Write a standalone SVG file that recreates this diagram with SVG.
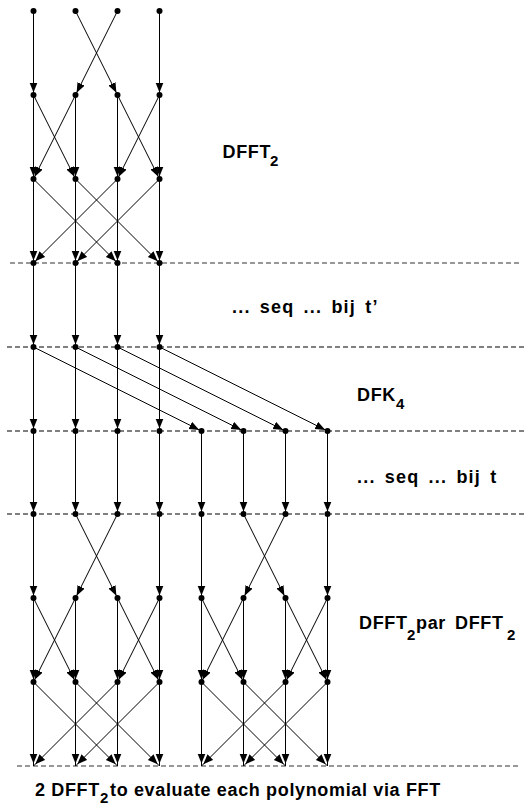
<svg xmlns="http://www.w3.org/2000/svg" width="525" height="806" viewBox="0 0 525 806">
<defs>
<marker id="ah" markerUnits="userSpaceOnUse" markerWidth="13" markerHeight="9" refX="12.5" refY="4" orient="auto">
<path d="M0,0 L10,4 L0,8 Z" fill="#000"/>
</marker>
<style>
.e{stroke:#000;stroke-width:1;fill:none;marker-end:url(#ah)}
.n{fill:#000}
.sep{stroke:#000;stroke-width:1;stroke-dasharray:5,3;fill:none}
.sepg{stroke:#777;stroke-width:1.5;stroke-dasharray:5,3;fill:none}
.t{font-family:"Liberation Sans",Arial,sans-serif;font-weight:bold;font-size:18px;letter-spacing:0.65px;fill:#000}
.q{font-family:"Liberation Sans",Arial,sans-serif;font-weight:bold;font-size:18px;letter-spacing:1.2px;word-spacing:3px;fill:#000}
.s{font-family:"Liberation Sans",Arial,sans-serif;font-weight:bold;font-size:15px;fill:#000}
</style>
</defs>
<rect width="525" height="806" fill="#fff"/>
<g id="separators">
<path class="sepg" d="M10,263 H520"/>
<path class="sep" d="M7,347 H525"/>
<path class="sep" d="M7,431 H525"/>
<path class="sep" d="M7,514 H525"/>
<path class="sepg" d="M17,766 H520"/>
</g>
<g id="connectors">
<path class="e" d="M33.5,11 L33.5,95"/>
<path class="e" d="M75.5,11 L117.5,95"/>
<path class="e" d="M117.5,11 L75.5,95"/>
<path class="e" d="M159.5,11 L159.5,95"/>

<path class="e" d="M33.5,95 L33.5,179"/>
<path class="e" d="M33.5,95 L75.5,179"/>
<path class="e" d="M75.5,95 L75.5,179"/>
<path class="e" d="M75.5,95 L33.5,179"/>
<path class="e" d="M117.5,95 L117.5,179"/>
<path class="e" d="M117.5,95 L159.5,179"/>
<path class="e" d="M159.5,95 L159.5,179"/>
<path class="e" d="M159.5,95 L117.5,179"/>

<path class="e" d="M33.5,179 L33.5,263"/>
<path class="e" d="M33.5,179 L117.5,263"/>
<path class="e" d="M75.5,179 L75.5,263"/>
<path class="e" d="M75.5,179 L159.5,263"/>
<path class="e" d="M117.5,179 L117.5,263"/>
<path class="e" d="M117.5,179 L33.5,263"/>
<path class="e" d="M159.5,179 L159.5,263"/>
<path class="e" d="M159.5,179 L75.5,263"/>

<path class="e" d="M33.5,263 L33.5,347"/>
<path class="e" d="M75.5,263 L75.5,347"/>
<path class="e" d="M117.5,263 L117.5,347"/>
<path class="e" d="M159.5,263 L159.5,347"/>

<path class="e" d="M33.5,347 L33.5,431"/>
<path class="e" d="M75.5,347 L75.5,431"/>
<path class="e" d="M117.5,347 L117.5,431"/>
<path class="e" d="M159.5,347 L159.5,431"/>
<path class="e" d="M33.5,347 L201.5,431"/>
<path class="e" d="M75.5,347 L243.5,431"/>
<path class="e" d="M117.5,347 L285.5,431"/>
<path class="e" d="M159.5,347 L327.5,431"/>

<path class="e" d="M33.5,431 L33.5,514"/>
<path class="e" d="M75.5,431 L75.5,514"/>
<path class="e" d="M117.5,431 L117.5,514"/>
<path class="e" d="M159.5,431 L159.5,514"/>
<path class="e" d="M201.5,431 L201.5,514"/>
<path class="e" d="M243.5,431 L243.5,514"/>
<path class="e" d="M285.5,431 L285.5,514"/>
<path class="e" d="M327.5,431 L327.5,514"/>

<path class="e" d="M33.5,514 L33.5,598"/>
<path class="e" d="M75.5,514 L117.5,598"/>
<path class="e" d="M117.5,514 L75.5,598"/>
<path class="e" d="M159.5,514 L159.5,598"/>
<path class="e" d="M201.5,514 L201.5,598"/>
<path class="e" d="M243.5,514 L285.5,598"/>
<path class="e" d="M285.5,514 L243.5,598"/>
<path class="e" d="M327.5,514 L327.5,598"/>

<path class="e" d="M33.5,598 L33.5,682"/>
<path class="e" d="M33.5,598 L75.5,682"/>
<path class="e" d="M75.5,598 L75.5,682"/>
<path class="e" d="M75.5,598 L33.5,682"/>
<path class="e" d="M117.5,598 L117.5,682"/>
<path class="e" d="M117.5,598 L159.5,682"/>
<path class="e" d="M159.5,598 L159.5,682"/>
<path class="e" d="M159.5,598 L117.5,682"/>
<path class="e" d="M201.5,598 L201.5,682"/>
<path class="e" d="M201.5,598 L243.5,682"/>
<path class="e" d="M243.5,598 L243.5,682"/>
<path class="e" d="M243.5,598 L201.5,682"/>
<path class="e" d="M285.5,598 L285.5,682"/>
<path class="e" d="M285.5,598 L327.5,682"/>
<path class="e" d="M327.5,598 L327.5,682"/>
<path class="e" d="M327.5,598 L285.5,682"/>

<path class="e" d="M33.5,682 L33.5,766"/>
<path class="e" d="M33.5,682 L117.5,766"/>
<path class="e" d="M75.5,682 L75.5,766"/>
<path class="e" d="M75.5,682 L159.5,766"/>
<path class="e" d="M117.5,682 L117.5,766"/>
<path class="e" d="M117.5,682 L33.5,766"/>
<path class="e" d="M159.5,682 L159.5,766"/>
<path class="e" d="M159.5,682 L75.5,766"/>
<path class="e" d="M201.5,682 L201.5,766"/>
<path class="e" d="M201.5,682 L285.5,766"/>
<path class="e" d="M243.5,682 L243.5,766"/>
<path class="e" d="M243.5,682 L327.5,766"/>
<path class="e" d="M285.5,682 L285.5,766"/>
<path class="e" d="M285.5,682 L201.5,766"/>
<path class="e" d="M327.5,682 L327.5,766"/>
<path class="e" d="M327.5,682 L243.5,766"/>
</g>
<g id="r0"><circle class="n" cx="33.5" cy="11" r="3"/><circle class="n" cx="75.5" cy="11" r="3"/><circle class="n" cx="117.5" cy="11" r="3"/><circle class="n" cx="159.5" cy="11" r="3"/></g>
<g id="r1"><circle class="n" cx="33.5" cy="95" r="3"/><circle class="n" cx="75.5" cy="95" r="3"/><circle class="n" cx="117.5" cy="95" r="3"/><circle class="n" cx="159.5" cy="95" r="3"/></g>
<g id="r2"><circle class="n" cx="33.5" cy="179" r="3"/><circle class="n" cx="75.5" cy="179" r="3"/><circle class="n" cx="117.5" cy="179" r="3"/><circle class="n" cx="159.5" cy="179" r="3"/></g>
<g id="r3"><circle class="n" cx="33.5" cy="263" r="3"/><circle class="n" cx="75.5" cy="263" r="3"/><circle class="n" cx="117.5" cy="263" r="3"/><circle class="n" cx="159.5" cy="263" r="3"/></g>
<g id="r4"><circle class="n" cx="33.5" cy="347" r="3"/><circle class="n" cx="75.5" cy="347" r="3"/><circle class="n" cx="117.5" cy="347" r="3"/><circle class="n" cx="159.5" cy="347" r="3"/></g>
<g id="r5"><circle class="n" cx="33.5" cy="431" r="3"/><circle class="n" cx="75.5" cy="431" r="3"/><circle class="n" cx="117.5" cy="431" r="3"/><circle class="n" cx="159.5" cy="431" r="3"/><circle class="n" cx="201.5" cy="431" r="3"/><circle class="n" cx="243.5" cy="431" r="3"/><circle class="n" cx="285.5" cy="431" r="3"/><circle class="n" cx="327.5" cy="431" r="3"/></g>
<g id="r6"><circle class="n" cx="33.5" cy="514" r="3"/><circle class="n" cx="75.5" cy="514" r="3"/><circle class="n" cx="117.5" cy="514" r="3"/><circle class="n" cx="159.5" cy="514" r="3"/><circle class="n" cx="201.5" cy="514" r="3"/><circle class="n" cx="243.5" cy="514" r="3"/><circle class="n" cx="285.5" cy="514" r="3"/><circle class="n" cx="327.5" cy="514" r="3"/></g>
<g id="r7"><circle class="n" cx="33.5" cy="598" r="3"/><circle class="n" cx="75.5" cy="598" r="3"/><circle class="n" cx="117.5" cy="598" r="3"/><circle class="n" cx="159.5" cy="598" r="3"/><circle class="n" cx="201.5" cy="598" r="3"/><circle class="n" cx="243.5" cy="598" r="3"/><circle class="n" cx="285.5" cy="598" r="3"/><circle class="n" cx="327.5" cy="598" r="3"/></g>
<g id="r8"><circle class="n" cx="33.5" cy="682" r="3"/><circle class="n" cx="75.5" cy="682" r="3"/><circle class="n" cx="117.5" cy="682" r="3"/><circle class="n" cx="159.5" cy="682" r="3"/><circle class="n" cx="201.5" cy="682" r="3"/><circle class="n" cx="243.5" cy="682" r="3"/><circle class="n" cx="285.5" cy="682" r="3"/><circle class="n" cx="327.5" cy="682" r="3"/></g>
<g id="labels">
<text class="t" x="222.5" y="158">DFFT</text><text class="s" x="270" y="166">2</text>
<text class="q" x="232" y="313">... seq ... bij t’</text>
<text class="t" x="357" y="401">DFK</text><text class="s" x="396" y="409">4</text>
<text class="q" x="357" y="483">... seq ... bij t</text>
<text class="t" x="359" y="629">DFFT</text><text class="s" x="407" y="640">2</text><text class="t" x="416" y="629">par</text><text class="t" x="455" y="629">DFFT</text><text class="s" x="507" y="640">2</text>
<text class="t" x="35" y="795.5">2 DFFT</text><text class="s" x="100" y="803">2</text><text class="t" x="110" y="795.5">to evaluate each polynomial via FFT</text>
</g>
</svg>
